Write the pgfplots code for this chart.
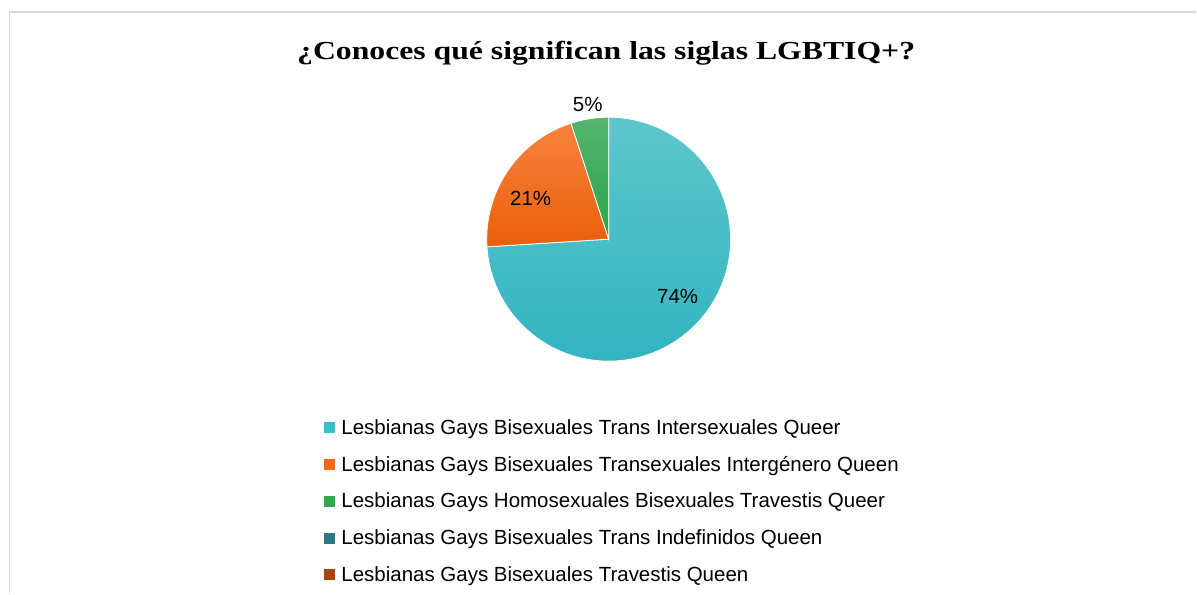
\documentclass[border=0pt]{standalone}
\usepackage{pgfplots}
\pgfplotsset{compat=1.18}
\usepackage{pgfplotstable}
\usepackage{fontspec}
\setmainfont{Liberation Serif}
\newfontfamily\arial{Liberation Sans}
\definecolor{cA}{HTML}{3CBCC6}
\definecolor{cAt}{HTML}{5DC6CC}
\definecolor{cAb}{HTML}{32B4BF}
\definecolor{cB}{HTML}{F26A14}
\definecolor{cBt}{HTML}{F9823F}
\definecolor{cBb}{HTML}{E95F0A}
\definecolor{cC}{HTML}{2EA94F}
\definecolor{cCt}{HTML}{56B46F}
\definecolor{cCb}{HTML}{27A64A}
\definecolor{cD}{HTML}{2A7B84}
\definecolor{cE}{HTML}{A8440E}
\definecolor{frame}{HTML}{D9D9D9}
\tikzset{
  slice0/.style={top color=cAt,bottom color=cAb},
  slice1/.style={top color=cBt,bottom color=cBb},
  slice2/.style={top color=cCt,bottom color=cCb},
  slice3/.style={fill=cD},
  slice4/.style={fill=cE},
}
% share of answers (percent)
\pgfplotstableread{
idx value
0 74
1 21
2 5
3 0
4 0
}\piedata
\begin{document}
\begin{tikzpicture}
\begin{axis}[
  width=1197pt, height=594pt, scale only axis,
  xmin=0, xmax=1197, ymin=0, ymax=594,
  hide axis, clip=false,
  legend cell align=left,
  legend style={at={(axis cs:324,176.5)}, anchor=north west, draw=none, fill=none,
    font=\arial\fontsize{20.5}{24}\selectfont, row sep=16.3pt, column sep=5pt,
    inner sep=0pt, nodes={inner sep=2pt}},
]
\path (axis cs:0,0) rectangle (axis cs:1197,594);
\draw[frame, line width=1.3pt] (axis cs:9.5,0) -- (axis cs:9.5,582) -- (axis cs:1197,582);
\node[font=\bfseries\fontsize{26}{30}\selectfont] at (axis cs:606.5,541) {\scalebox{1.22}[1]{¿Conoces qué significan las siglas LGBTIQ+?}};
\def\angstart{90}
\pgfplotsforeachungrouped \i in {0,...,4}{%
  \pgfplotstablegetelem{\i}{value}\of\piedata
  \pgfmathsetmacro\angend{\angstart-3.6*\pgfplotsretval}%
  \ifdim\pgfplotsretval pt>0pt
    \edef\doslice{\noexpand\path[slice\i,draw=white,line width=0.8pt] (axis cs:609,354.7) -- ++(\angstart:122pt) arc[start angle=\angstart,end angle=\angend,radius=122pt] -- cycle;}%
    \doslice
  \fi
  \global\let\angstart\angend
}
\node[font=\arial\fontsize{20.5}{24}\selectfont] at (axis cs:678,297) {74\%};
\node[font=\arial\fontsize{20.5}{24}\selectfont] at (axis cs:531,395) {21\%};
\node[font=\arial\fontsize{20.5}{24}\selectfont] at (axis cs:588,489) {5\%};
\addlegendimage{legend image code/.code={\fill[cA] (0pt,-5pt) rectangle (10pt,5pt);}}
\addlegendentry{Lesbianas Gays Bisexuales Trans Intersexuales Queer}
\addlegendimage{legend image code/.code={\fill[cB] (0pt,-5pt) rectangle (10pt,5pt);}}
\addlegendentry{Lesbianas Gays Bisexuales Transexuales Intergénero Queen}
\addlegendimage{legend image code/.code={\fill[cC] (0pt,-5pt) rectangle (10pt,5pt);}}
\addlegendentry{Lesbianas Gays Homosexuales Bisexuales Travestis Queer}
\addlegendimage{legend image code/.code={\fill[cD] (0pt,-5pt) rectangle (10pt,5pt);}}
\addlegendentry{Lesbianas Gays Bisexuales Trans Indefinidos Queen}
\addlegendimage{legend image code/.code={\fill[cE] (0pt,-5pt) rectangle (10pt,5pt);}}
\addlegendentry{Lesbianas Gays Bisexuales Travestis Queen}
\end{axis}
\end{tikzpicture}
\end{document}
